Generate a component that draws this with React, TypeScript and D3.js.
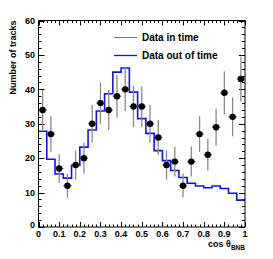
import * as d3 from 'd3';
import React, { useEffect, useRef } from 'react';

// cos(theta_BNB) histogram, 25 bins of 0.04
const binEdges = d3.range(0, 1.0001, 0.04);
const inTime = [34, 27, 17, 12, 18, 20, 30, 36, 34, 38, 40, 35, 35, 30, 26, 18, 19, 12, 19, 27, 21, 29, 39, 32, 43];
const outOfTime = [27.8, 19.7, 15.4, 14.2, 17.9, 23.2, 28.2, 33.7, 38.7, 45, 46.2, 39.2, 31.5, 27.2, 22.2, 19.3, 16.4, 14.4, 12.7, 11.9, 11.4, 11.9, 11.2, 9.8, 7.8];
const xTicks = [0, 0.1, 0.2, 0.3, 0.4, 0.5, 0.6, 0.7, 0.8, 0.9, 1];
const yTicks = [0, 10, 20, 30, 40, 50, 60];
const legendLabels = ['Data in time', 'Data out of time'];

const W = 273;
const H = 259;
const font = "'Liberation Sans', Arial, Helvetica, sans-serif";

export default function App() {
  const ref = useRef<SVGSVGElement | null>(null);

  useEffect(() => {
    const svg = d3.select(ref.current);
    svg.selectAll('*').remove();

    const x = d3.scaleLinear().domain([0, 1]).range([38.5, 245]);
    const y = d3.scaleLinear().domain([0, 60]).range([227, 20.5]);
    const [x0, x1] = x.range();
    const [y0, y1] = y.range();

    svg.append('rect').attr('width', W).attr('height', H).attr('fill', '#fff');

    // ticks on all four sides, pointing inward
    const ticks = svg.append('g').attr('stroke', '#000').attr('stroke-width', 1);
    d3.range(0, 1.0001, 0.02).forEach((v, i) => {
      const len = i % 5 === 0 ? 5 : 2.5;
      const px = Math.round(x(v)) + 0.5;
      ticks.append('line').attr('x1', px).attr('x2', px).attr('y1', y0).attr('y2', y0 - len);
      ticks.append('line').attr('x1', px).attr('x2', px).attr('y1', y1).attr('y2', y1 + len);
    });
    d3.range(0, 60.001, 2).forEach((v, i) => {
      const len = i % 5 === 0 ? 6 : 3;
      const py = Math.round(y(v)) + 0.5;
      ticks.append('line').attr('y1', py).attr('y2', py).attr('x1', x0).attr('x2', x0 + len);
      ticks.append('line').attr('y1', py).attr('y2', py).attr('x1', x1).attr('x2', x1 - len);
    });

    // out of time histogram (blue step line)
    const steps: [number, number][] = [];
    outOfTime.forEach((v, i) => {
      steps.push([binEdges[i], v]);
      steps.push([binEdges[i + 1], v]);
    });
    svg
      .append('path')
      .datum(steps)
      .attr('d', d3.line<[number, number]>().x(d => x(d[0])).y(d => y(d[1])))
      .attr('fill', 'none')
      .attr('stroke', '#1010ff')
      .attr('stroke-width', 1.6);

    // in time data points with errors
    const pts = svg.append('g');
    inTime.forEach((v, i) => {
      const lo = binEdges[i];
      const hi = binEdges[i + 1];
      const cx = x((lo + hi) / 2);
      const err = Math.sqrt(v);
      pts
        .append('line')
        .attr('x1', cx)
        .attr('x2', cx)
        .attr('y1', y(v - err))
        .attr('y2', y(Math.min(v + err, 60)))
        .attr('stroke', '#8a8a8a')
        .attr('stroke-width', 1.3);
      pts
        .append('line')
        .attr('x1', x(lo))
        .attr('x2', x(hi))
        .attr('y1', y(v))
        .attr('y2', y(v))
        .attr('stroke', '#555')
        .attr('stroke-width', 1.2);
      pts.append('circle').attr('cx', cx).attr('cy', y(v)).attr('r', 3.2).attr('fill', '#000');
    });

    // frame
    svg
      .append('rect')
      .attr('x', x0)
      .attr('y', y1)
      .attr('width', x1 - x0)
      .attr('height', y0 - y1)
      .attr('fill', 'none')
      .attr('stroke', '#000')
      .attr('stroke-width', 1);

    // tick labels
    const labels = svg.append('g').attr('font-family', font).attr('font-weight', 'bold').attr('font-size', 9).attr('fill', '#000');
    xTicks.forEach(v => {
      labels
        .append('text')
        .attr('x', x(v))
        .attr('y', 237)
        .attr('text-anchor', 'middle')
        .text(d3.format('~g')(v));
    });
    yTicks.forEach(v => {
      labels
        .append('text')
        .attr('x', 35)
        .attr('y', y(v) + 3.2 - (v === 0 ? 2 : 0))
        .attr('text-anchor', 'end')
        .text(v);
    });

    // axis titles
    labels
      .append('text')
      .attr('transform', `translate(16,${y1}) rotate(-90)`)
      .attr('text-anchor', 'end')
      .text('Number of tracks');
    const xt = labels.append('text').attr('x', x1).attr('y', 247).attr('text-anchor', 'end');
    xt.append('tspan').text('cos θ');
    xt.append('tspan').attr('font-size', 6.5).attr('dy', 2.5).text('BNB');

    // legend
    const legColors = ['#777', '#1010ff'];
    legendLabels.forEach((t, i) => {
      const ly = 37.5 + i * 18;
      svg
        .append('line')
        .attr('x1', 114)
        .attr('x2', 137)
        .attr('y1', ly)
        .attr('y2', ly)
        .attr('stroke', legColors[i])
        .attr('stroke-width', i === 0 ? 1 : 1.3);
      svg
        .append('text')
        .attr('x', 142)
        .attr('y', ly + 3.6)
        .attr('font-family', font)
        .attr('font-weight', 'bold')
        .attr('font-size', 10)
        .text(t);
    });
  }, []);

  return (
    <svg
      ref={ref}
      width={W}
      height={H}
      style={{ position: 'absolute', left: 0, top: 0, display: 'block' }}
    />
  );
}
